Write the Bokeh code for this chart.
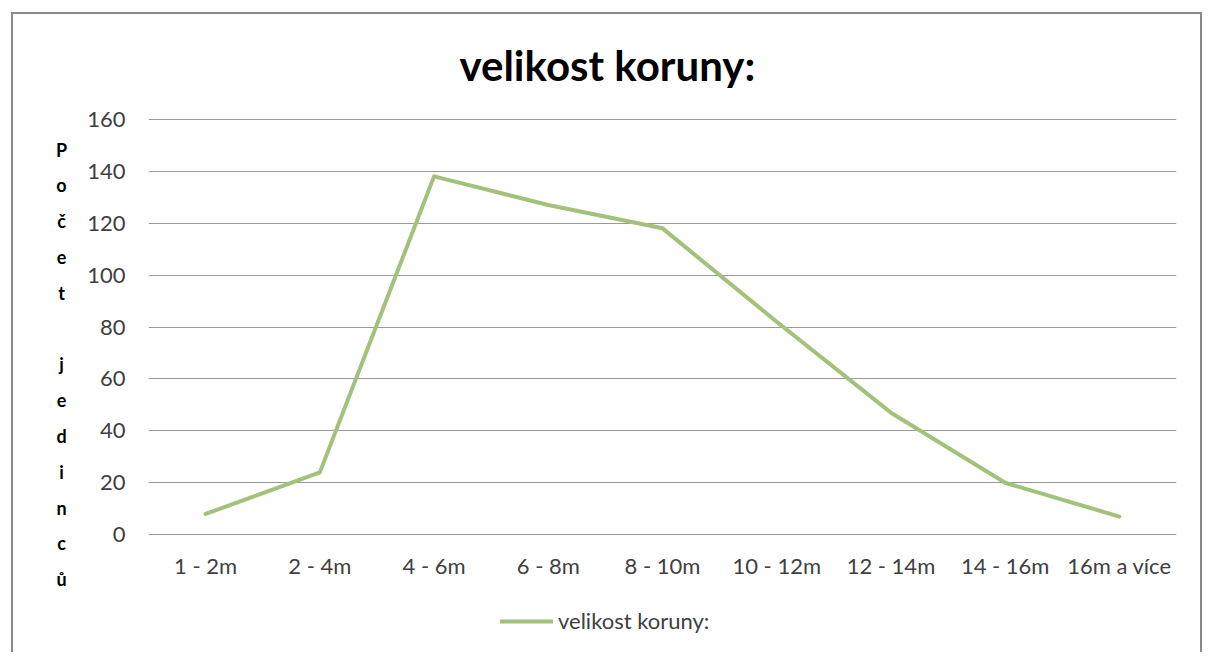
from bokeh.plotting import figure
from bokeh.layouts import row, column
from bokeh.models import Legend, LegendItem, ColumnDataSource, FixedTicker, Label, Range1d
from bokeh.embed import file_html
from bokeh.resources import INLINE

categories = ["1 - 2m", "2 - 4m", "4 - 6m", "6 - 8m", "8 - 10m", "10 - 12m", "12 - 14m", "14 - 16m", "16m a více"]
values = [8, 24, 138, 127, 118, 82, 47, 20, 7]
series_name = "velikost koruny:"
title_text = "velikost koruny:"
y_label = "Počet jedinců"
y_ticks = [0, 20, 40, 60, 80, 100, 120, 140, 160]

FONT = "Lato"
LINE_COLOR = "#A2C17A"
TOTAL_H = 652
TOP_H, LEG_H = 600, 52
LEFT_W, MAIN_W = 80, 1130


def bare(fig):
    fig.border_fill_color = None
    fig.background_fill_color = None
    fig.outline_line_color = None
    fig.min_border = 0
    return fig


src = ColumnDataSource(dict(cat=categories, val=values))

# ---- left strip: vertically stacked y-axis title
left = bare(figure(width=LEFT_W, height=TOTAL_H, output_backend="svg", toolbar_location=None,
                   x_axis_type=None, y_axis_type=None))
left.grid.visible = False
for i, ch in enumerate(y_label):
    if ch == " ":
        continue
    left.add_layout(Label(x=61, y=TOTAL_H - 149 - i * 35.8, x_units="screen", y_units="screen", text=ch,
                          text_font=FONT, text_font_size="18px", text_font_style="bold",
                          text_color="#000000", text_align="center", text_baseline="middle"))

# ---- main chart
p = figure(x_range=categories, y_range=(-0.3, 160.3), width=MAIN_W, height=TOP_H,
           output_backend="svg", toolbar_location=None)
bare(p)
p.min_border_left = 68
p.min_border_right = 34
p.min_border_top = 118
p.min_border_bottom = TOP_H - 535
p.x_range.range_padding = 0

p.line("cat", "val", source=src, line_color=LINE_COLOR, line_width=4, line_join="round", line_cap="round")

p.title.text = title_text
p.title.text_font = FONT
p.title.text_font_size = "42px"
p.title.text_font_style = "bold"
p.title.text_color = "#000000"
p.title.align = "left"
p.title.offset = 311
p.title.standoff = 57

p.yaxis.ticker = FixedTicker(ticks=y_ticks)
p.ygrid.grid_line_color = "#999999"
p.ygrid.grid_line_width = 1.2
p.xgrid.grid_line_color = None
for ax in (p.xaxis[0], p.yaxis[0]):
    ax.axis_line_color = None
    ax.major_tick_line_color = None
    ax.minor_tick_line_color = None
    ax.major_label_text_font = FONT
    ax.major_label_text_font_size = "22px"
    ax.major_label_text_color = "#404040"
p.yaxis.major_label_standoff = 17
p.xaxis.major_label_standoff = 10

# ---- legend strip (proxy renderer shares the data but sits outside the strip's visible range)
lf = bare(figure(width=MAIN_W, height=LEG_H, output_backend="svg", toolbar_location=None,
                 x_range=categories, y_range=Range1d(-1000, -999), x_axis_type=None, y_axis_type=None))
lf.grid.visible = False
proxy = lf.line("cat", "val", source=src, line_color=LINE_COLOR, line_width=4, line_cap="round")
legend = Legend(items=[LegendItem(label=series_name, renderers=[proxy])],
                location=(352, 18), orientation="horizontal",
                glyph_width=53, glyph_height=26, label_height=26, label_standoff=5,
                padding=0, margin=0, border_line_color=None, background_fill_alpha=0,
                label_text_font=FONT, label_text_font_size="22px", label_text_color="#404040")
lf.add_layout(legend, "center")

g = "linear-gradient(#898989,#898989)"
layout = row(left, column(p, lf, spacing=0), spacing=0)
layout.styles = {"background": f"{g} 11px 12px / 2px 100% no-repeat, "
                               f"{g} 11px 12px / 1191px 2px no-repeat, "
                               f"{g} 1200px 12px / 2px 100% no-repeat, white"}

open("out.html", "w").write(file_html(layout, INLINE))
